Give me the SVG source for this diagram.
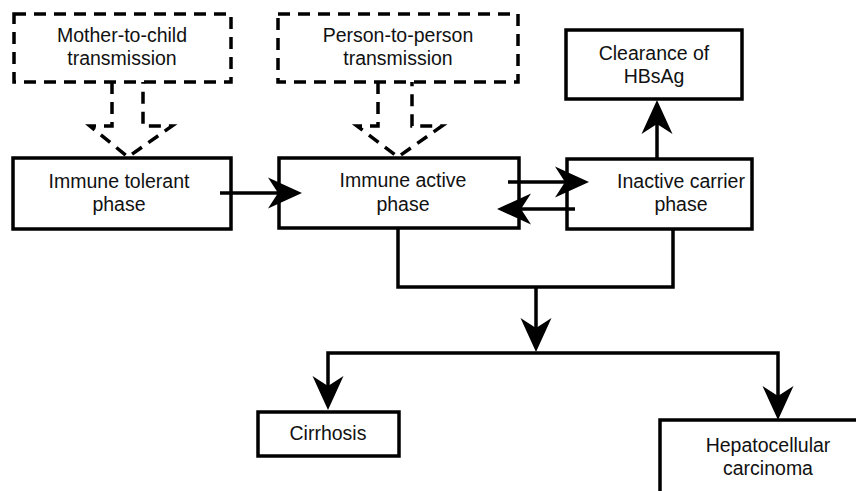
<svg xmlns="http://www.w3.org/2000/svg" width="856" height="491" viewBox="0 0 856 491">
<style>
  .box { fill: #fff; stroke: #000; stroke-width: 3.5; }
  .dbox { fill: #fff; stroke: #000; stroke-width: 3.5; stroke-dasharray: 12 8; }
  .darrow { fill: none; stroke: #000; stroke-width: 3.5; stroke-dasharray: 12 8; }
  .conn { fill: none; stroke: #000; stroke-width: 3.5; }
  .lbl { font-family: "Liberation Sans", Arial, sans-serif; font-size: 19.5px; fill: #111; text-anchor: middle; }
</style>
<defs>
  <path id="ah" d="M0,0 L-34,-15.5 L-24,0 L-34,15.5 Z" fill="#000"/>
</defs>
<rect width="856" height="491" fill="#fff"/>

<g id="mother">
  <rect class="dbox" x="14" y="14" width="217" height="68"/>
  <text class="lbl" x="122" y="42">Mother-to-child</text>
  <text class="lbl" x="122" y="65">transmission</text>
</g>
<g id="person">
  <rect class="dbox" x="278" y="14" width="240" height="68"/>
  <text class="lbl" x="398" y="42">Person-to-person</text>
  <text class="lbl" x="398" y="65">transmission</text>
</g>
<g id="clearance">
  <rect class="box" x="566" y="30" width="176" height="69"/>
  <text class="lbl" x="654" y="60">Clearance of</text>
  <text class="lbl" x="654" y="83">HBsAg</text>
</g>
<g id="tolerant">
  <rect class="box" x="13" y="158" width="218" height="71"/>
  <text class="lbl" x="119" y="188">Immune tolerant</text>
  <text class="lbl" x="119" y="211">phase</text>
</g>
<g id="active">
  <rect class="box" x="279" y="158" width="240" height="70"/>
  <text class="lbl" x="403" y="187">Immune active</text>
  <text class="lbl" x="403" y="211">phase</text>
</g>
<g id="inactive">
  <rect class="box" x="567" y="159" width="185" height="70"/>
  <text class="lbl" x="681" y="188">Inactive carrier</text>
  <text class="lbl" x="681" y="211">phase</text>
</g>
<g id="cirrhosis">
  <rect class="box" x="258" y="412" width="141" height="44"/>
  <text class="lbl" x="328" y="440">Cirrhosis</text>
</g>
<g id="hcc">
  <rect class="box" x="660" y="420" width="220" height="90"/>
  <text class="lbl" x="768" y="452">Hepatocellular</text>
  <text class="lbl" x="768" y="475">carcinoma</text>
</g>

<g id="connectors">
  <path class="darrow" d="M112,82 L112,126 L90,126 L128,157 L172,126 L143,126 L143,82"/>
  <path class="darrow" d="M378,82 L378,126 L357,126 L398,157 L442,126 L412,126 L412,82"/>
  <line class="conn" x1="220" y1="193" x2="280" y2="193"/>
  <use href="#ah" transform="translate(302,193)"/>
  <line class="conn" x1="508" y1="182" x2="567" y2="182"/>
  <use href="#ah" transform="translate(589,182)"/>
  <line class="conn" x1="575" y1="209" x2="519" y2="209"/>
  <use href="#ah" transform="translate(497,209) rotate(180)"/>
  <line class="conn" x1="657" y1="158" x2="657" y2="122"/>
  <use href="#ah" transform="translate(657,100) rotate(-90)"/>
  <polyline class="conn" points="398,228 398,287 673,287 673,229"/>
  <line class="conn" x1="536" y1="287" x2="536" y2="330"/>
  <use href="#ah" transform="translate(536,352) rotate(90)"/>
  <polyline class="conn" points="328,388 328,353 778,353 778,398"/>
  <use href="#ah" transform="translate(328,410) rotate(90)"/>
  <use href="#ah" transform="translate(778,420) rotate(90)"/>
</g>
</svg>
